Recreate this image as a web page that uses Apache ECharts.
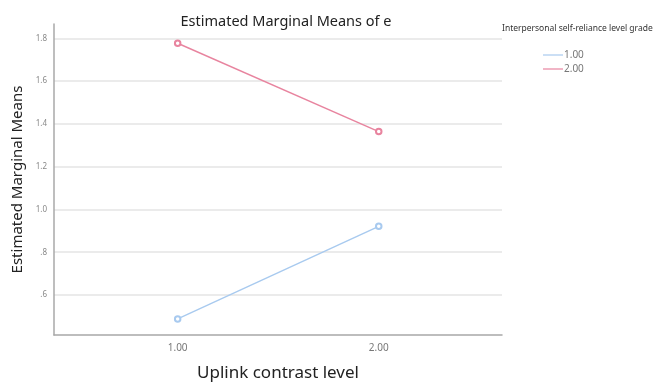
<!DOCTYPE html>
<html>
<head>
<meta charset="utf-8">
<script src="https://cdn.jsdelivr.net/npm/echarts@6/dist/echarts.min.js"></script>
<style>html,body{margin:0;padding:0;background:#fff;}#c{width:660px;height:383px;}</style>
</head>
<body>
<div id="c"></div>
<script>
const xLevels = [1, 2];
const seriesNames = ['1.00', '2.00'];
const lowValues = [0.488, 0.921];
const highValues = [1.777, 1.364];
const yTicks = [0.6, 0.8, 1.0, 1.2, 1.4, 1.6, 1.8];
const yTickLabels = ['.6', '.8', '1.0', '1.2', '1.4', '1.6', '1.8'];
const xTickLabels = ['1.00', '2.00'];

const font = '"Noto Sans", "Open Sans", sans-serif';
const colors = ['#a8caef', '#e8849f'];
const chart = echarts.init(document.getElementById('c'));

function mk(name, vals, color) {
  return {
    name: name, type: 'line',
    data: xLevels.map((x, i) => [x, vals[i]]),
    symbol: 'emptyCircle', symbolSize: 5.5,
    lineStyle: { color: color, width: 1.4 },
    itemStyle: { color: color, borderColor: color, borderWidth: 1.4 },
    emphasis: { disabled: true }
  };
}

chart.setOption({
  animation: false,
  backgroundColor: '#fff',
  title: [
    { text: 'Estimated Marginal Means of e', left: 281, top: 9, textAlign: 'center',
      textStyle: { fontFamily: font, fontSize: 14.5, fontWeight: 'normal', color: '#222' } },
    { text: 'Interpersonal self-reliance level grade', left: 497, top: 19,
      textStyle: { fontFamily: font, fontSize: 8.5, fontWeight: 'normal', color: '#333' } }
  ],
  legend: {
    orient: 'vertical', left: 538, top: 45,
    icon: 'rect', itemWidth: 20, itemHeight: 1.2, itemGap: 4,
    itemStyle: { borderWidth: 0 },
    textStyle: { fontFamily: font, fontSize: 10, color: '#777', padding: [0, 0, 0, -4] },
    data: seriesNames
  },
  grid: { left: 54, right: 158, top: 24, bottom: 48, outerBoundsMode: 'none', containLabel: false },
  xAxis: {
    type: 'value', min: 0.385, max: 2.613,
    name: 'Uplink contrast level', nameLocation: 'middle', nameGap: 30,
    nameTextStyle: { fontFamily: font, fontSize: 17, color: '#222' },
    axisLine: { show: true, lineStyle: { color: '#a8a8a8', width: 1.5 } },
    axisTick: { show: false, customValues: xLevels },
    splitLine: { show: false },
    axisLabel: { customValues: xLevels, fontFamily: font, fontSize: 10, color: '#777', margin: 8,
      formatter: v => xTickLabels[xLevels.indexOf(Math.round(v))] || '' }
  },
  yAxis: {
    type: 'value', min: 0.413, max: 1.867,
    name: 'Estimated Marginal Means', nameLocation: 'middle', nameGap: 26,
    nameTextStyle: { fontFamily: font, fontSize: 15, color: '#222' },
    axisLine: { show: true, lineStyle: { color: '#a8a8a8', width: 1.5 } },
    axisTick: { show: false, customValues: yTicks },
    splitLine: { show: true, lineStyle: { color: '#e4e4e4', width: 1.5 } },
    axisLabel: { customValues: yTicks, fontFamily: font, fontSize: 8, color: '#888', margin: 7,
      formatter: v => { const i = yTicks.findIndex(t => Math.abs(t - v) < 1e-6); return i >= 0 ? yTickLabels[i] : ''; } }
  },
  series: [mk(seriesNames[0], lowValues, colors[0]), mk(seriesNames[1], highValues, colors[1])]
});
</script>
</body>
</html>
